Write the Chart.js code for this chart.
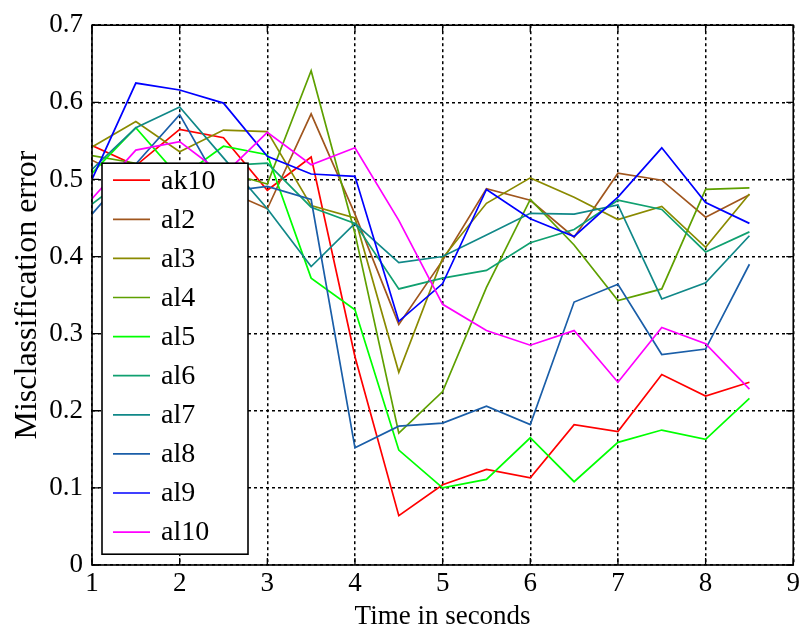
<!DOCTYPE html>
<html>
<head>
<meta charset="utf-8">
<title>Misclassification error</title>
<script src="https://cdn.jsdelivr.net/npm/chart.js@4.4.1/dist/chart.umd.min.js"></script>
<style>
  body { margin: 0; background: #fff; }
  #chart { display: block; }
</style>
</head>
<body>
<canvas id="chart" width="803" height="630"></canvas>
<script>
// --- Data ---
const timePoints = [1, 1.5, 2, 2.5, 3, 3.5, 4, 4.5, 5, 5.5, 6, 6.5, 7, 7.5, 8, 8.5];
const xTicks = [1, 2, 3, 4, 5, 6, 7, 8, 9];
const yTicks = [0, 0.1, 0.2, 0.3, 0.4, 0.5, 0.6, 0.7];

const ak10 = [0.544, 0.518, 0.565, 0.554, 0.486, 0.529, 0.27, 0.064, 0.104, 0.124, 0.113, 0.182, 0.173, 0.247, 0.219, 0.237];
const al2 = [0.525, 0.496, 0.518, 0.487, 0.462, 0.585, 0.455, 0.312, 0.395, 0.488, 0.473, 0.425, 0.508, 0.499, 0.451, 0.480];
const al3 = [0.542, 0.575, 0.536, 0.564, 0.562, 0.466, 0.450, 0.250, 0.398, 0.469, 0.502, 0.477, 0.448, 0.465, 0.412, 0.481];
const al4 = [0.531, 0.521, 0.517, 0.510, 0.494, 0.641, 0.430, 0.171, 0.225, 0.360, 0.474, 0.415, 0.343, 0.358, 0.487, 0.489];
const al5 = [0.508, 0.567, 0.502, 0.543, 0.532, 0.372, 0.331, 0.149, 0.100, 0.111, 0.165, 0.108, 0.159, 0.175, 0.163, 0.216];
const al6 = [0.468, 0.511, 0.495, 0.518, 0.521, 0.464, 0.443, 0.358, 0.372, 0.382, 0.418, 0.435, 0.473, 0.461, 0.406, 0.432];
const al7 = [0.513, 0.567, 0.594, 0.528, 0.462, 0.387, 0.443, 0.392, 0.400, 0.428, 0.456, 0.455, 0.467, 0.345, 0.366, 0.427];
const al8 = [0.455, 0.520, 0.584, 0.484, 0.491, 0.474, 0.152, 0.180, 0.184, 0.206, 0.182, 0.341, 0.364, 0.273, 0.280, 0.390];
const al9 = [0.500, 0.625, 0.616, 0.599, 0.530, 0.507, 0.504, 0.316, 0.365, 0.487, 0.449, 0.426, 0.477, 0.541, 0.470, 0.443];
const al10 = [0.475, 0.538, 0.549, 0.506, 0.561, 0.519, 0.541, 0.447, 0.338, 0.304, 0.285, 0.304, 0.237, 0.308, 0.287, 0.228];

const seriesNames = ['ak10', 'al2', 'al3', 'al4', 'al5', 'al6', 'al7', 'al8', 'al9', 'al10'];
const seriesValues = [ak10, al2, al3, al4, al5, al6, al7, al8, al9, al10];
const seriesColors = ['#ff0000', '#a0561e', '#8a8a00', '#5ea000', '#00ff00', '#10a070', '#108888', '#1a5ea8', '#0000ff', '#ff00ff'];

const serifFont = "'Liberation Serif', 'Times New Roman', serif";

// --- Frame, inside ticks and legend box ---
const frameAndLegend = {
    id: 'frameAndLegend',
    afterDraw(chart) {
        const ctx = chart.ctx;
        const area = chart.chartArea;
        const xs = chart.scales.x;
        const ys = chart.scales.y;
        ctx.save();

        // tick marks pointing inward on all four sides
        ctx.strokeStyle = '#000';
        ctx.lineWidth = 1.3;
        ctx.setLineDash([]);
        ctx.beginPath();
        xTicks.forEach(v => {
            const px = xs.getPixelForValue(v);
            ctx.moveTo(px, area.bottom); ctx.lineTo(px, area.bottom - 7);
            ctx.moveTo(px, area.top); ctx.lineTo(px, area.top + 7);
        });
        yTicks.forEach(v => {
            const py = ys.getPixelForValue(v);
            ctx.moveTo(area.left, py); ctx.lineTo(area.left + 7, py);
            ctx.moveTo(area.right, py); ctx.lineTo(area.right - 7, py);
        });
        ctx.stroke();

        // axes box
        ctx.lineWidth = 1.6;
        ctx.strokeRect(area.left, area.top, area.right - area.left, area.bottom - area.top);

        // legend
        const boxX = area.left + 10;
        const boxY = area.top + 138;
        const boxW = 146;
        const boxH = 391;
        const rowGap = 39.1;
        ctx.fillStyle = '#fff';
        ctx.fillRect(boxX, boxY, boxW, boxH);
        ctx.strokeRect(boxX, boxY, boxW, boxH);
        ctx.font = '28px ' + serifFont;
        ctx.textBaseline = 'middle';
        chart.data.datasets.forEach((ds, i) => {
            const y = boxY + 17 + i * rowGap;
            ctx.strokeStyle = ds.borderColor;
            ctx.lineWidth = 1.7;
            ctx.beginPath();
            ctx.moveTo(boxX + 11, y);
            ctx.lineTo(boxX + 48, y);
            ctx.stroke();
            ctx.fillStyle = '#000';
            ctx.fillText(ds.label, boxX + 59, y + 1);
        });
        ctx.restore();
    }
};

// --- Build chart ---
function buildDatasets() {
    return seriesNames.map((name, i) => ({
        label: name,
        data: timePoints.map((t, k) => ({ x: t, y: seriesValues[i][k] })),
        borderColor: seriesColors[i],
        backgroundColor: seriesColors[i],
        borderWidth: 1.7,
        pointRadius: 0,
        tension: 0,
        fill: false,
        order: seriesNames.length - i
    }));
}

const ctx = document.getElementById('chart').getContext('2d');
window.chart = new Chart(ctx, {
    type: 'line',
    data: { datasets: buildDatasets() },
    options: {
        responsive: false,
        animation: false,
        devicePixelRatio: 1,
        layout: { autoPadding: false, padding: { top: 20, right: 6, left: 0, bottom: 0 } },
        plugins: {
            legend: { display: false },
            tooltip: { enabled: false }
        },
        scales: {
            x: {
                type: 'linear',
                min: 1,
                max: 9,
                afterBuildTicks: scale => { scale.ticks = xTicks.map(v => ({ value: v })); },
                afterFit: scale => { scale.height = 65; },
                ticks: {
                    color: '#000',
                    padding: 3,
                    maxRotation: 0,
                    font: { family: serifFont, size: 27 },
                    callback: value => String(value)
                },
                grid: { color: '#000', lineWidth: 1.5, drawTicks: false },
                border: { display: false, dash: [3, 3] },
                title: {
                    display: true,
                    text: 'Time in seconds',
                    color: '#000',
                    font: { family: serifFont, size: 27, lineHeight: 1 },
                    padding: { top: 0, bottom: 0 }
                }
            },
            y: {
                type: 'linear',
                min: 0,
                max: 0.7,
                afterBuildTicks: scale => { scale.ticks = yTicks.map(v => ({ value: v })); },
                afterFit: scale => { scale.width = 92; },
                ticks: {
                    color: '#000',
                    padding: 9,
                    font: { family: serifFont, size: 27 },
                    callback: value => String(Number(value.toFixed(1)))
                },
                grid: { color: '#000', lineWidth: 1.5, drawTicks: false },
                border: { display: false, dash: [3, 3] },
                title: {
                    display: true,
                    text: 'Misclassification error',
                    color: '#000',
                    font: { family: serifFont, size: 32, lineHeight: 1 },
                    padding: { top: 12, bottom: 0 }
                }
            }
        }
    },
    plugins: [frameAndLegend]
});
</script>
</body>
</html>
